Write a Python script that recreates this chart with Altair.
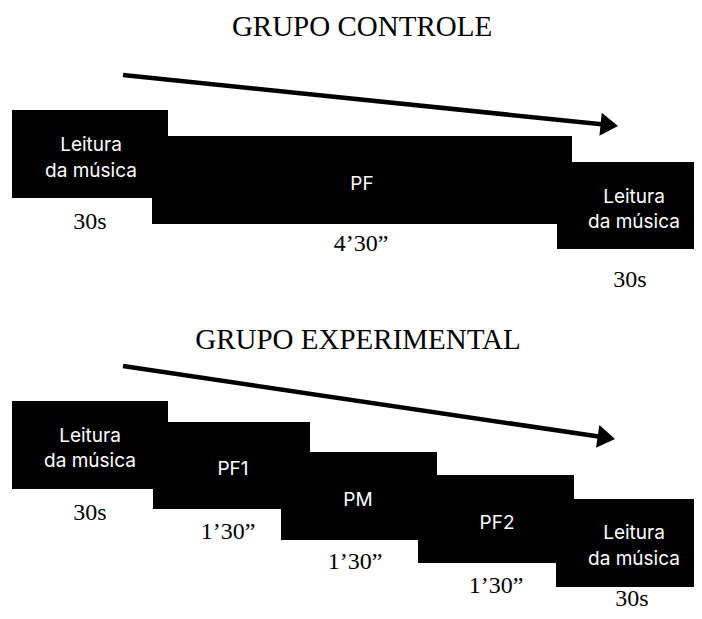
import math
import altair as alt
import pandas as pd

# ---- diagram content (page pixel coordinates of the 702x619 picture) ----
titles = ["GRUPO CONTROLE", "GRUPO EXPERIMENTAL"]
title_x = [362, 358]
title_y = [36, 349]

box_x0 = [12, 152, 557, 12, 153, 281, 418, 556]
box_x1 = [168, 572, 702, 168, 310, 437, 574, 702]
box_y0 = [110, 136, 162, 401, 422, 452, 475, 499]
box_y1 = [198, 224, 249, 489, 509, 540, 563, 587]

lab_text = ["Leitura", "da música", "PF", "Leitura", "da música",
            "Leitura", "da música", "PF1", "PM", "PF2", "Leitura", "da música"]
lab_x = [91, 91, 362, 634, 634, 90, 90, 233, 358, 497, 634, 634]
lab_y = [151, 177, 190, 203, 228, 442, 467, 475, 506, 529, 539, 565]

dur_text = ["30s", "4\u201930\u201d", "30s", "30s", "1\u201930\u201d", "1\u201930\u201d", "1\u201930\u201d", "30s"]
dur_x = [90, 361, 630, 90, 228, 355, 496, 632]
dur_y = [229, 251, 287, 520, 539, 569, 593, 606]

arrow_x0 = [123, 123]
arrow_y0 = [75, 366]
arrow_tx = [618, 615]
arrow_ty = [126, 439]

HEAD_LEN = 17.5
HEAD_HALF = 11.5

# ---- derived tables ----
boxes = pd.DataFrame({"x0": box_x0, "x1": box_x1, "y0": box_y0, "y1": box_y1})
labels = pd.DataFrame({"t": lab_text, "x": lab_x, "y": lab_y})
durs = pd.DataFrame({"t": dur_text, "x": dur_x, "y": dur_y})
tits = pd.DataFrame({"t": titles, "x": title_x, "y": title_y})

lines_rows, head_rows = [], []
for x0, y0, tx, ty in zip(arrow_x0, arrow_y0, arrow_tx, arrow_ty):
    ang = math.atan2(ty - y0, tx - x0)
    c, s = math.cos(ang), math.sin(ang)
    lines_rows.append({"x": x0, "y": y0, "x2": tx - (HEAD_LEN - 1) * c, "y2": ty - (HEAD_LEN - 1) * s})
    head_rows.append({"x": tx - HEAD_LEN / 2 * c, "y": ty - HEAD_LEN / 2 * s, "ang": math.degrees(ang)})
alines = pd.DataFrame(lines_rows)
aheads = pd.DataFrame(head_rows)

# page has an 8px margin: the plot origin sits at page (8, 8)
W, H = 686, 603
xs = alt.Scale(domain=[8, 8 + W], nice=False, zero=False)
ys = alt.Scale(domain=[8, 8 + H], nice=False, zero=False, reverse=True)
X = lambda f: alt.X(f, type="quantitative", scale=xs, axis=None)
Y = lambda f: alt.Y(f, type="quantitative", scale=ys, axis=None)

rects = alt.Chart(boxes).mark_rect(color="black", opacity=1, clip=True).encode(
    x=X("x0"), x2="x1", y=Y("y0"), y2="y1")

lab = alt.Chart(labels).mark_text(font="Inter", fontSize=19, color="white",
                                  align="center", baseline="alphabetic").encode(
    x=X("x"), y=Y("y"), text="t:N")

dur = alt.Chart(durs).mark_text(font="Liberation Serif", fontSize=24, color="black",
                                align="center", baseline="alphabetic").encode(
    x=X("x"), y=Y("y"), text="t:N")

tit = alt.Chart(tits).mark_text(font="Liberation Serif", fontSize=29, color="black",
                                align="center", baseline="alphabetic").encode(
    x=X("x"), y=Y("y"), text="t:N")

arl = alt.Chart(alines).mark_rule(color="black", strokeWidth=4.5, strokeCap="butt").encode(
    x=X("x"), y=Y("y"), x2="x2", y2="y2")

s = 2 * HEAD_HALF
k = HEAD_LEN / 2 / HEAD_HALF
head_path = f"M{-k:.3f},-1 L{k:.3f},0 L{-k:.3f},1 Z"
arh = alt.Chart(aheads).mark_point(shape=head_path, filled=True, color="black",
                                   opacity=1, size=s * s, strokeWidth=0).encode(
    x=X("x"), y=Y("y"), angle=alt.Angle("ang:Q", scale=None))

chart = alt.layer(rects, arl, arh, lab, dur, tit).properties(
    width=W, height=H, autosize="none", padding=0
).configure_view(stroke=None)

chart.save("out.html", embed_options={"renderer": "svg", "actions": False})
